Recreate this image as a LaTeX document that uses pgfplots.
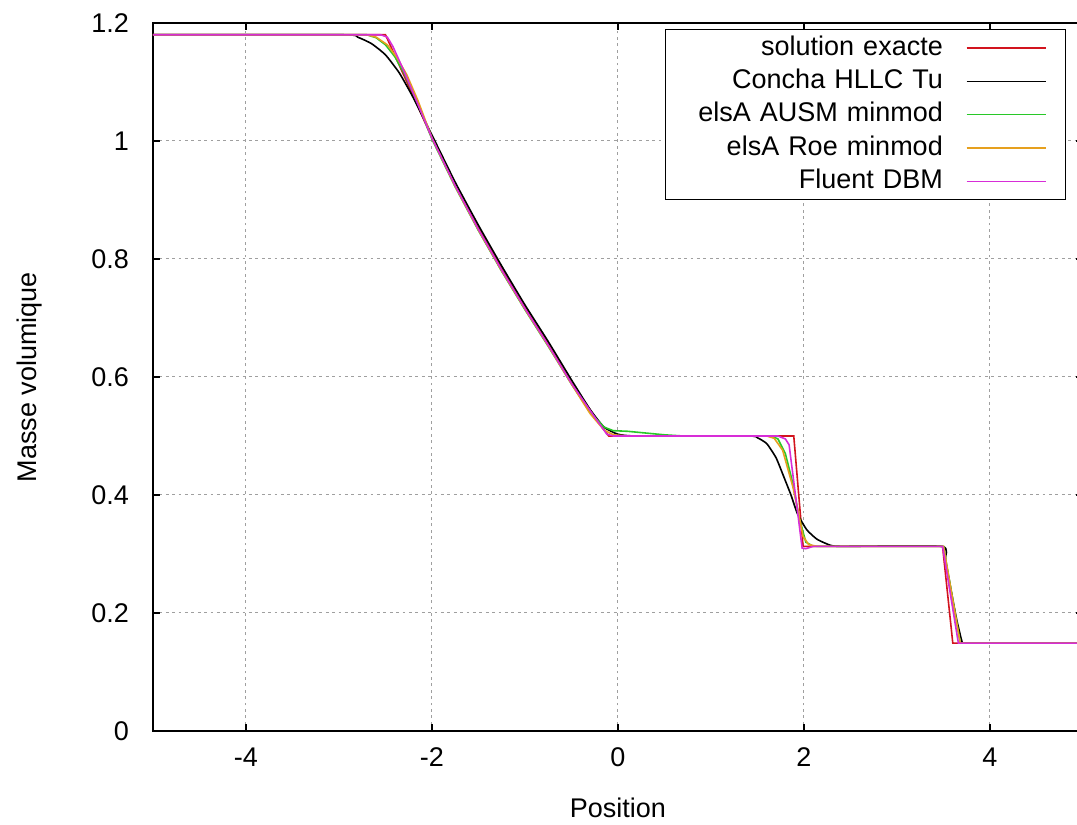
\documentclass[border=0pt]{standalone}
\usepackage{pgfplots}
\pgfplotsset{compat=1.18}
\usepackage{fontspec}
\setmainfont{Liberation Sans}
\usetikzlibrary{calc}
\definecolor{cexact}{RGB}{210,20,30}
\definecolor{cgreen}{RGB}{40,200,40}
\definecolor{corange}{RGB}{230,160,30}
\definecolor{cmag}{RGB}{215,45,215}
\begin{document}
\begin{tikzpicture}
\begin{axis}[
  scale only axis,
  width=465pt, height=354pt,
  xmin=-5, xmax=5, ymin=0, ymax=1.2,
  font=\fontsize{13.5}{16}\selectfont,
  xtick={-4,-2,0,2,4},
  xticklabels={-4,-2,0,2,4},
  ytick={0,0.2,0.4,0.6,0.8,1,1.2},
  yticklabels={0,0.2,0.4,0.6,0.8,1,1.2},
  minor tick num=0,
  tick align=inside,
  major tick length=3.5pt,
  tick style={black, line width=0.6pt},
  axis line style={black, line width=0.75pt},
  grid=major,
  major grid style={gray!75, line width=0.5pt, dash pattern=on 1.4pt off 1.8pt},
  xticklabel style={yshift=-5pt},
  yticklabel style={xshift=-8.5pt},
  every axis x label/.style={at={(axis description cs:0.5,0)}, anchor=center, yshift=-38.5pt},
  every axis y label/.style={at={(axis description cs:-0.1323,0.5)}, rotate=90, anchor=center},
  xlabel={Position},
  ylabel={Masse volumique},
  legend plot pos=right,
  legend cell align=right,
  legend image code/.code={\path (0pt,0pt); \draw[#1, line width=0.75pt] (11.5pt,0pt) -- (51pt,0pt);},
  legend style={at={(rel axis cs:0.9817,0.9915)}, anchor=north east, draw=black, line width=0.6pt, fill=white,
    inner xsep=9.5pt, inner ysep=3pt, row sep=4.4pt, column sep=0pt,
    nodes={inner sep=0pt, text width=129pt, align=right, text height=9.7pt, text depth=2.6pt}},
  every axis plot/.append style={line width=0.8pt},
]
\addplot[cexact, sharp plot] coordinates {
(-5,1.18) (-2.5,1.18) (-2.25,1.093) (-2.0,1.005) (-1.75,0.925) (-1.5,0.852) (-1.25,0.783)
(-1.0,0.718) (-0.75,0.656) (-0.5,0.590) (-0.25,0.533) (-0.1,0.500) (1.89,0.500) (1.99,0.313)
(3.49,0.313) (3.60,0.149) (5,0.149)};
\addlegendentry{solution exacte}
\addplot[black, smooth, tension=0.3] coordinates {
(-5,1.18) (-2.95,1.18) (-2.8,1.176) (-2.65,1.165) (-2.5,1.146) (-2.35,1.115) (-2.2,1.073)
(-2.0,1.010) (-1.75,0.930) (-1.5,0.857) (-1.25,0.788) (-1.0,0.722) (-0.75,0.660) (-0.5,0.595)
(-0.3,0.545) (-0.15,0.515) (0,0.503) (0.2,0.500) (1.40,0.500) (1.50,0.497) (1.60,0.487)
(1.70,0.463) (1.78,0.432) (1.86,0.400) (1.93,0.368) (2.03,0.341) (2.14,0.325) (2.28,0.315)
(2.40,0.313) (3.48,0.313) (3.52,0.290) (3.58,0.240) (3.64,0.190) (3.70,0.151) (3.73,0.149) (5,0.149)};
\addlegendentry{Concha HLLC Tu}
\addplot[cgreen, sharp plot] coordinates {
(-5,1.18) (-2.7,1.18) (-2.6,1.175) (-2.5,1.163) (-2.4,1.143) (-2.3,1.115) (-2.15,1.063)
(-2.0,1.003) (-1.75,0.922) (-1.5,0.848) (-1.25,0.779) (-1.0,0.714) (-0.75,0.652) (-0.5,0.588)
(-0.3,0.540) (-0.15,0.515) (-0.05,0.509) (0.1,0.508) (0.3,0.505) (0.5,0.502) (0.7,0.500)
(1.65,0.500) (1.72,0.495) (1.80,0.470) (1.88,0.420) (1.95,0.360) (2.02,0.320) (2.10,0.313)
(3.50,0.313) (3.68,0.149) (5,0.149)};
\addlegendentry{elsA AUSM minmod}
\addplot[corange, sharp plot] coordinates {
(-5,1.18) (-2.7,1.18) (-2.6,1.176) (-2.48,1.163) (-2.38,1.142) (-2.27,1.112) (-2.15,1.068)
(-2.0,1.005) (-1.75,0.923) (-1.5,0.849) (-1.25,0.780) (-1.0,0.715) (-0.75,0.653) (-0.5,0.588)
(-0.3,0.538) (-0.15,0.510) (-0.05,0.502) (0.1,0.500) (1.60,0.500) (1.68,0.496) (1.77,0.476)
(1.88,0.414) (1.94,0.370) (1.99,0.330) (2.05,0.316) (2.14,0.313) (3.50,0.313) (3.68,0.149) (5,0.149)};
\addlegendentry{elsA Roe minmod}
\addplot[cmag, sharp plot] coordinates {
(-5,1.18) (-2.55,1.18) (-2.48,1.176) (-2.42,1.160) (-2.3,1.118) (-2.0,1.005) (-1.75,0.924)
(-1.5,0.850) (-1.25,0.781) (-1.0,0.716) (-0.75,0.654) (-0.5,0.589) (-0.25,0.532) (-0.12,0.503)
(-0.05,0.500) (1.72,0.500) (1.80,0.495) (1.84,0.485) (1.98,0.310) (2.02,0.309) (2.10,0.313)
(3.49,0.313) (3.66,0.149) (5,0.149)};
\addlegendentry{Fluent DBM}
\end{axis}
\pgfresetboundingbox
\path[use as bounding box] ($(current axis.south west)+(-76.5pt,-47pt)$) rectangle ($(current axis.south west)+(462pt,365.5pt)$);
\end{tikzpicture}
\end{document}
